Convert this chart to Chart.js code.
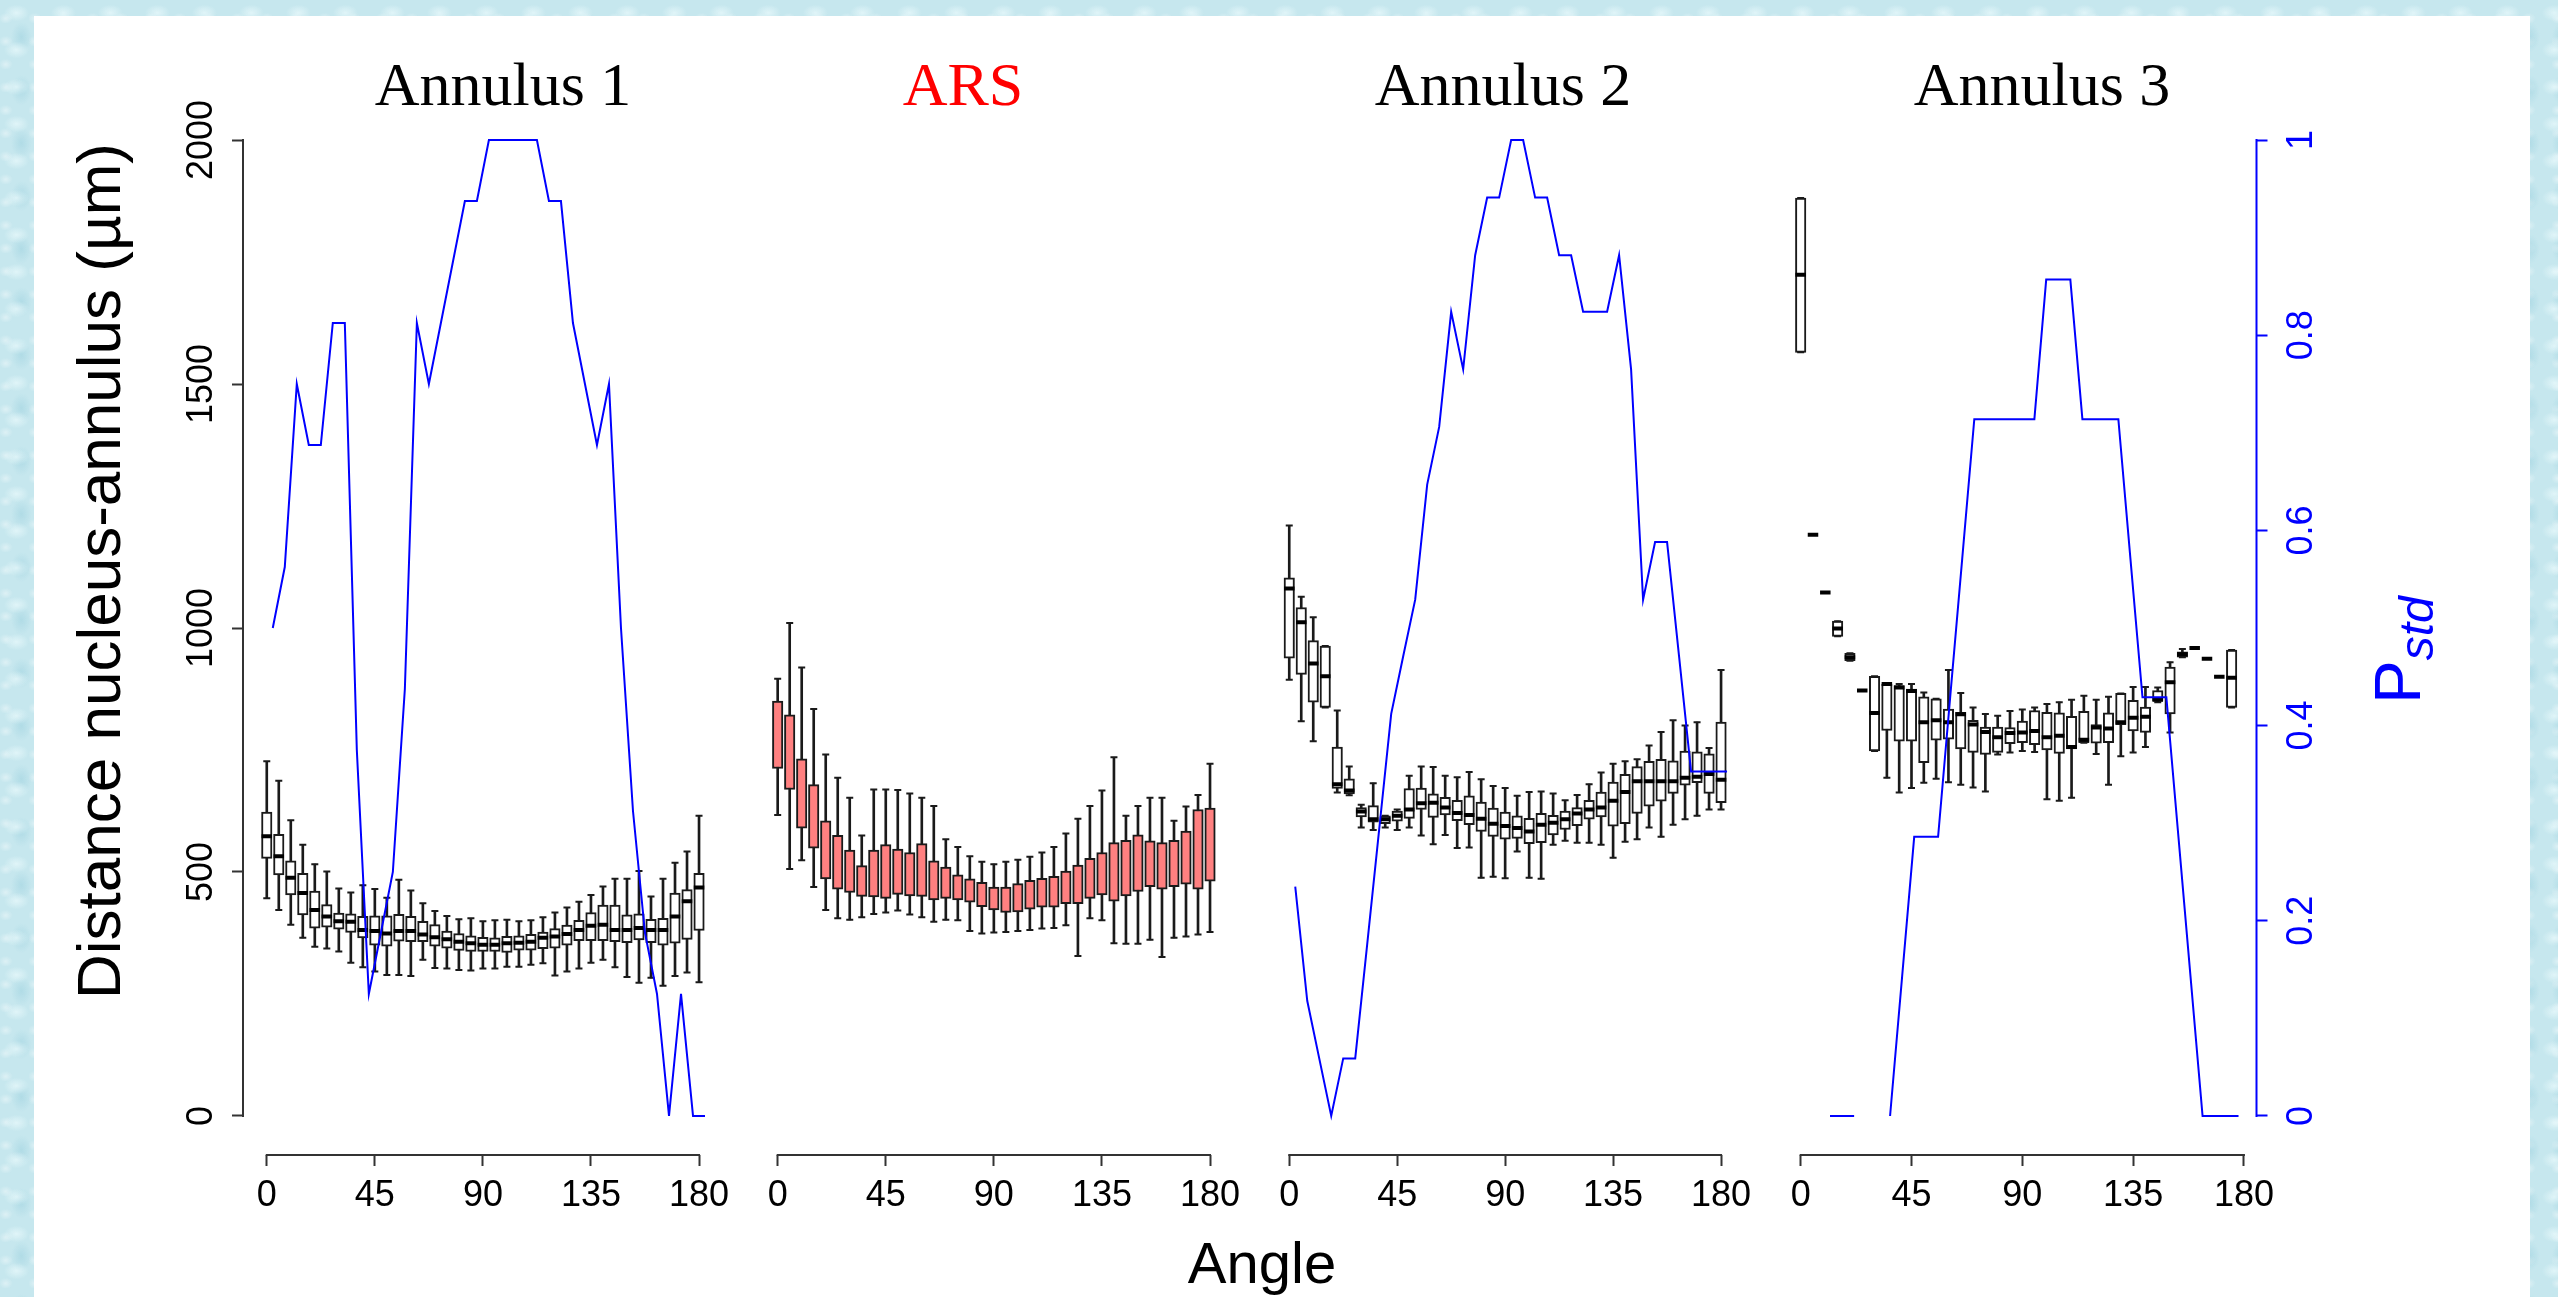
<!DOCTYPE html>
<html>
<head>
<meta charset="utf-8">
<title>Distance nucleus-annulus vs angle</title>
<script src="https://cdn.jsdelivr.net/npm/chart.js@4.4.1/dist/chart.umd.min.js"></script>
<style>
  html, body { margin: 0; padding: 0; }
  body {
    width: 2558px; height: 1297px; overflow: hidden; position: relative;
    background-color: #c6e7ee;
    background-image:
      radial-gradient(ellipse 18px 12px at 35% 35%, rgba(235,250,252,0.7) 0%, rgba(235,250,252,0) 70%),
      radial-gradient(ellipse 14px 20px at 65% 70%, rgba(150,205,220,0.45) 0%, rgba(150,205,220,0) 75%),
      radial-gradient(ellipse 10px 8px at 20% 80%, rgba(255,255,255,0.4) 0%, rgba(255,255,255,0) 70%);
    background-size: 47px 37px, 33px 53px, 29px 23px;
  }
  #sheet { position: absolute; left: 34px; top: 16px; width: 2496px; height: 1281px; background: #fff; }
  canvas { position: absolute; left: 0; top: 0; }
  #err { position: absolute; left: 60px; top: 30px; font: 20px monospace; color: #c00; }
</style>
</head>
<body>
<div id="sheet"></div>
<canvas id="c1" width="2558" height="1297"></canvas>
<canvas id="c2" width="2558" height="1297"></canvas>
<canvas id="c3" width="2558" height="1297"></canvas>
<canvas id="c4" width="2558" height="1297"></canvas>
<div id="err"></div>
<script>

// ---- data ----
var angles = [0,5,10,15,20,25,30,35,40,45,50,55,60,65,70,75,80,85,90,95,100,105,110,115,120,125,130,135,140,145,150,155,160,165,170,175,180];
var angles3 = [0,5,10,15,20,25,30,35,40,45,50,55,60,65,70,75,80,85,90,95,100,105,110,115,120,125,130,135,140,145,150,155,160,165,170,175];
var xTicks = [0, 45, 90, 135, 180];
var yTicks = [0, 500, 1000, 1500, 2000];
var pTicks = [0, 0.2, 0.4, 0.6, 0.8, 1];

// Annulus 1 (µm)
var a1Hi  = [727,687,606,556,516,501,466,458,473,465,447,484,462,436,420,410,403,405,399,401,402,399,401,407,417,427,439,453,470,486,486,502,450,486,519,542,615];
var a1Q3  = [623,577,523,497,461,433,416,414,409,410,410,413,409,399,392,379,374,369,366,365,368,369,372,377,384,391,401,417,432,432,412,414,403,405,457,464,497];
var a1Med = [573,532,488,457,422,409,399,398,381,379,374,379,379,372,366,362,357,354,351,351,354,355,357,365,368,373,381,390,392,381,381,385,381,381,409,440,468];
var a1Q1  = [528,494,453,412,385,387,383,376,365,350,348,358,357,357,348,344,339,337,337,337,335,340,340,343,344,350,359,359,359,357,355,361,355,350,354,362,380];
var a1Lo  = [446,422,392,365,347,343,337,314,305,296,289,289,287,320,303,302,299,298,302,302,306,306,310,313,288,296,302,314,320,305,285,273,283,267,287,294,274];

// ARS
var arsHi = [896,1010,919,834,741,693,652,575,669,669,668,661,652,635,567,551,532,521,516,521,525,531,540,551,579,609,635,667,735,615,635,652,652,605,634,658,722];
var arsQ3 = [850,822,732,679,605,575,545,513,545,556,547,540,558,523,510,494,486,479,469,469,476,483,487,491,502,514,528,540,560,565,576,564,560,565,584,628,631];
var arsQ1 = [712,669,590,549,486,465,458,450,449,446,454,451,450,443,446,443,438,429,422,417,418,424,428,428,435,435,446,453,440,451,460,470,465,470,475,465,481];
var arsLo = [617,506,524,469,422,405,402,407,414,417,421,413,407,398,402,401,379,374,376,377,379,381,384,385,391,328,405,401,354,353,353,361,326,365,368,372,377];

// Annulus 2
var a2Hi  = [1210,1064,1022,963,831,716,638,682,615,628,697,716,715,697,694,705,690,676,672,656,664,665,661,647,658,680,704,722,727,731,759,787,811,800,807,754,914];
var a2Q3  = [1103,1042,974,963,756,691,632,636,615,625,671,672,660,653,647,656,643,631,623,615,610,620,616,625,632,647,664,684,700,716,727,731,728,748,746,742,807];
var a2Med = [1081,1012,927,901,680,667,624,608,608,615,628,641,642,632,621,617,609,599,594,590,583,597,601,608,620,628,632,646,664,686,686,686,686,693,695,701,689];
var a2Q1  = [938,905,848,837,671,660,613,602,599,604,610,628,612,617,605,597,583,573,567,569,558,560,576,587,595,608,613,594,599,620,635,645,661,678,683,661,642];
var a2Lo  = [894,809,768,837,663,657,591,586,591,586,591,575,557,576,549,550,488,490,487,542,488,486,556,564,560,560,556,529,562,567,591,572,597,608,615,628,628];

// Annulus 3 (no box at 180)
var a3Hi  = [1881,1191,1073,1014,948,872,901,885,885,885,868,855,914,867,837,824,820,830,833,837,844,848,853,861,853,859,866,879,879,878,930,957,959,937,900,955];
var a3Q3  = [1881,1191,1073,1014,948,872,901,885,882,875,859,855,834,827,811,797,797,796,809,831,827,826,819,829,802,826,866,852,838,872,920,951,959,937,900,955];
var a3Med = [1724,1191,1073,999,940,872,826,885,878,871,807,811,807,823,802,787,776,785,786,789,776,779,756,771,796,794,807,816,818,853,889,946,959,937,900,898];
var a3Q1  = [1565,1191,1073,983,933,872,748,790,768,768,724,770,772,752,745,741,745,763,765,761,750,743,752,765,764,765,802,789,786,850,824,940,959,937,900,837];
var a3Lo  = [1565,1191,1073,983,933,872,748,693,663,672,683,691,684,679,673,665,741,745,748,746,649,646,652,765,742,679,737,745,756,848,786,940,959,937,900,837];

// Pstd curves
var pAngles = [2.5,7.5,12.5,17.5,22.5,27.5,32.5,37.5,42.5,47.5,52.5,57.5,62.5,67.5,72.5,77.5,82.5,87.5,92.5,97.5,102.5,107.5,112.5,117.5,122.5,127.5,132.5,137.5,142.5,147.5,152.5,157.5,162.5,167.5,172.5,177.5,182.5];
var pAngles4 = [2.1,7.0,11.9,16.8,21.7,26.5,31.4,36.3,41.2,46.1,50.9,55.8,60.7,65.6,70.5,75.3,80.2,85.1,90.0,94.9,99.7,104.6,109.5,114.4,119.3,124.1,129.0,133.9,138.8,143.7,148.5,153.4,158.3,163.2,168.1,172.9,177.8];
var pstd1 = [0.5,0.5625,0.75,0.6875,0.6875,0.8125,0.8125,0.375,0.125,0.1875,0.25,0.4375,0.8125,0.75,0.8125,0.875,0.9375,0.9375,1,1,1,1,1,0.9375,0.9375,0.8125,0.75,0.6875,0.75,0.5,0.3125,0.1875,0.125,0,0.125,0,0];
var pstd2 = [0.235,0.118,0.059,0,0.059,0.059,0.176,0.294,0.412,0.471,0.529,0.647,0.706,0.824,0.765,0.882,0.941,0.941,1,1,0.941,0.941,0.882,0.882,0.824,0.824,0.824,0.882,0.765,0.529,0.588,0.588,0.471,0.353,0.353,0.353,0.353];
var pstd3 = [null,null,0,0,0,null,null,0,0.143,0.286,0.286,0.286,0.429,0.571,0.714,0.714,0.714,0.714,0.714,0.714,0.857,0.857,0.857,0.714,0.714,0.714,0.714,0.571,0.429,0.429,0.429,0.286,0.143,0,0,0,0];

var ink = '#1a1a1a';
var sans = 'Liberation Sans';
var serif = 'Liberation Serif';

// the y tick labels in the figure are condensed; use the narrow face when it is installed
var mctx = document.createElement('canvas').getContext('2d');
function textWidth(font, s) { mctx.font = font; return mctx.measureText(s).width; }
var hasNarrow = textWidth('40px "Liberation Sans Narrow", monospace', '2000 0.8') !== textWidth('40px monospace', '2000 0.8');
var yFont = hasNarrow ? { family: 'Liberation Sans Narrow', size: 43 } : { family: sans, size: 36 };
var pFont = hasNarrow ? { family: 'Liberation Sans Narrow', size: 42 } : { family: sans, size: 36 };
var yWide = textWidth(yFont.size + 'px "' + yFont.family + '"', '2000');
var pWide = textWidth(pFont.size + 'px "' + pFont.family + '"', '0.2');

// free texts of each canvas (titles, axis names)
var texts = {
    c1: [
        { text: 'Annulus 1', x: 503, y: 105, font: '62px "' + serif + '"' },
        { text: 'Distance nucleus-annulus (µm)', x: 120, y: 571, rot: -Math.PI / 2, font: '62px "' + sans + '"' }
    ],
    c2: [
        { text: 'ARS', x: 963, y: 105, font: '62px "' + serif + '"', color: '#ff0000' },
        { text: 'Angle', x: 1262, y: 1283, font: '58px "' + sans + '"' }
    ],
    c3: [
        { text: 'Annulus 2', x: 1503, y: 105, font: '62px "' + serif + '"' }
    ],
    c4: [
        { text: 'Annulus 3', x: 2042, y: 105, font: '62px "' + serif + '"' },
        { text: 'P', sub: 'std', x: 2420, y: 650, rot: -Math.PI / 2, color: '#0000ff',
          font: '65px "' + sans + '"', subFont: 'italic 48px "' + sans + '"' }
    ]
};

// R style axis line (first to last tick) + free texts
var rStyle = {
    id: 'rStyle',
    afterDraw: function (chart) {
        var ctx = chart.ctx, a = chart.chartArea;
        Object.keys(chart.scales).forEach(function (k) {
            var s = chart.scales[k];
            if (!s.options.display || !s.ticks.length) return;
            var p0 = s.getPixelForValue(s.ticks[0].value);
            var p1 = s.getPixelForValue(s.ticks[s.ticks.length - 1].value);
            ctx.save();
            ctx.strokeStyle = s.options.grid.tickColor;
            ctx.lineWidth = 2;
            ctx.beginPath();
            if (s.isHorizontal()) {
                ctx.moveTo(p0 - 1, a.bottom); ctx.lineTo(p1 + 1, a.bottom);
            } else {
                var x = s.position === 'left' ? a.left : a.right;
                ctx.moveTo(x, p0 + 1); ctx.lineTo(x, p1 - 1);
            }
            ctx.stroke();
            ctx.restore();
        });
        (texts[chart.canvas.id] || []).forEach(function (t) {
            ctx.save();
            ctx.translate(t.x, t.y);
            if (t.rot) ctx.rotate(t.rot);
            ctx.fillStyle = t.color || '#000';
            ctx.textBaseline = 'alphabetic';
            if (t.sub) {
                ctx.font = t.font;
                var w1 = ctx.measureText(t.text).width;
                ctx.font = t.subFont;
                var w2 = ctx.measureText(t.sub).width;
                var x0 = -(w1 + w2) / 2;
                ctx.textAlign = 'left';
                ctx.font = t.font;
                ctx.fillText(t.text, x0, 0);
                ctx.font = t.subFont;
                ctx.fillText(t.sub, x0 + w1, 13);
            } else {
                ctx.font = t.font;
                ctx.textAlign = 'center';
                ctx.fillText(t.text, 0, 0);
            }
            ctx.restore();
        });
    }
};

function boxSets(xs, lo, q1, med, q3, hi, fill) {
    var sets = [];
    sets.push({
        type: 'bar', order: 4, grouped: false,
        data: xs.map(function (x, i) { return { x: x, y: [lo[i], hi[i]] }; }),
        backgroundColor: ink, borderWidth: 0,
        barPercentage: 1, categoryPercentage: 1, maxBarThickness: 2
    });
    sets.push({
        type: 'bar', order: 3, grouped: false,
        data: xs.map(function (x, i) { return { x: x, y: [q1[i], q3[i]] }; }),
        backgroundColor: fill, borderColor: ink, borderWidth: 2, borderSkipped: false,
        barPercentage: 1, categoryPercentage: 1, maxBarThickness: 10.5
    });
    var caps = [];
    xs.forEach(function (x, i) { caps.push({ x: x, y: lo[i] }); caps.push({ x: x, y: hi[i] }); });
    sets.push({
        type: 'line', order: 2, data: caps, showLine: false,
        pointStyle: 'line', pointRadius: 3.5, pointBorderWidth: 2, pointBorderColor: ink
    });
    if (med) {
        sets.push({
            type: 'line', order: 1, showLine: false,
            data: xs.map(function (x, i) { return { x: x, y: med[i] }; }),
            pointStyle: 'line', pointRadius: 5.25, pointBorderWidth: 4, pointBorderColor: '#000'
        });
    }
    return sets;
}

function pstdSet(xs, p) {
    return {
        type: 'line', yAxisID: 'y1', order: 0,
        data: xs.map(function (x, i) { return { x: x, y: p[i] }; }),
        borderColor: '#0000ff', borderWidth: 2, pointRadius: 0, tension: 0, spanGaps: false
    };
}

function fixTicks(list) {
    return function (s) { s.ticks = list.map(function (v) { return { value: v }; }); };
}

function drawPanel(id, o) {
    var scales = {
        x: {
            type: 'linear', min: o.xMin, max: o.xMax, offset: false,
            afterBuildTicks: fixTicks(xTicks),
            afterFit: function (s) { s.height = 80; },
            border: { display: false },
            grid: { offset: false, drawOnChartArea: false, tickLength: 11, tickWidth: 2, tickColor: '#333' },
            ticks: { autoSkip: false, maxRotation: 0, padding: 8, color: '#000',
                     font: { family: sans, size: 36 }, callback: function (v) { return String(v); } }
        },
        y: {
            type: 'linear', min: -80, max: 2080, display: !!o.showLeft,
            afterBuildTicks: fixTicks(yTicks),
            border: { display: false },
            grid: { drawOnChartArea: false, tickLength: 11, tickWidth: 2, tickColor: '#333' },
            // label centre at x = 202.5 (axis at 243)
            ticks: { autoSkip: false, minRotation: 90, maxRotation: 90, crossAlign: 'center',
                     padding: 29.5 - yWide / 2,
                     color: '#000', font: yFont, callback: function (v) { return String(v); } }
        }
    };
    if (o.showLeft) scales.y.afterFit = function (s) { s.width = 100; };
    if (o.pstd) {
        scales.y1 = {
            type: 'linear', position: 'right', min: -0.04, max: 1.04, display: !!o.showRight,
            afterBuildTicks: fixTicks(pTicks),
            border: { display: false },
            grid: { drawOnChartArea: false, tickLength: 11, tickWidth: 2, tickColor: '#0000ff' },
            // label centre at x = 2302 (axis at 2256.5)
            ticks: { autoSkip: false, minRotation: 90, maxRotation: 90, crossAlign: 'center',
                     padding: 34.5 - pWide / 2,
                     color: '#0000ff', font: pFont, callback: function (v) { return String(v); } }
        };
        if (o.showRight) scales.y1.afterFit = function (s) { s.width = 90; };
    }
    var padLeft = o.left - (o.showLeft ? 100 : 0);
    var padRight = 2558 - o.right - (o.showRight ? 90 : 0);

    return new Chart(document.getElementById(id).getContext('2d'), {
        type: 'bar',
        data: { datasets: o.datasets },
        plugins: [rStyle],
        options: {
            responsive: false, animation: false, devicePixelRatio: 1, events: [],
            layout: { padding: { left: padLeft, right: padRight, top: 101, bottom: 1297 - 1155 - 80 } },
            scales: scales,
            plugins: { legend: { display: false }, tooltip: { enabled: false } }
        }
    });
}

function run() {
    try {
        drawPanel('c1', {
            left: 243, right: 722.8, xMin: -9.9, xMax: 189.9, showLeft: true, pstd: true,
            datasets: boxSets(angles, a1Lo, a1Q1, a1Med, a1Q3, a1Hi, '#ffffff').concat([pstdSet(pAngles, pstd1)])
        });
        drawPanel('c2', {
            left: 753.9, right: 1233.8, xMin: -9.9, xMax: 189.9,
            datasets: boxSets(angles, arsLo, arsQ1, null, arsQ3, arsHi, '#ff8080')
        });
        drawPanel('c3', {
            left: 1265.5, right: 1744.8, xMin: -9.9, xMax: 189.9, pstd: true,
            datasets: boxSets(angles, a2Lo, a2Q1, a2Med, a2Q3, a2Hi, '#ffffff').concat([pstdSet(pAngles, pstd2)])
        });
        drawPanel('c4', {
            left: 1776.8, right: 2256.5, xMin: -9.7, xMax: 185.1, pstd: true, showRight: true,
            datasets: boxSets(angles3, a3Lo, a3Q1, a3Med, a3Q3, a3Hi, '#ffffff').concat([pstdSet(pAngles4, pstd3)])
        });
    } catch (e) {
        document.getElementById('err').textContent = 'error: ' + e.message;
    }
}

if (typeof Chart === 'undefined') {
    document.getElementById('err').textContent = 'Chart.js not loaded';
} else {
    window.addEventListener('load', function () { setTimeout(run, 0); });
}
</script>
</body>
</html>
